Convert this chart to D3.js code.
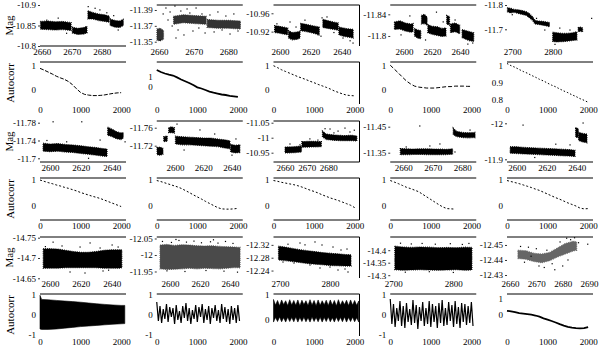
<!DOCTYPE html>
<html>
<head>
<meta charset="utf-8">
<script src="https://cdn.jsdelivr.net/npm/d3@7"></script>
<style>
  body { margin: 0; background: #fff; }
  svg { display: block; font-family: "Liberation Serif", "Times New Roman", serif; }
</style>
</head>
<body>
<div id="chart"></div>
<script>
// ---- panel domains & ticks (15 stars, row by row) ----
const xDomains = [
    [2659.43, 2688.1], [2659.35, 2684.17], [2595.78, 2651.6], [2590.2, 2651.6], [2686.9, 2899.8],
    [2593.5, 2649.3], [2587.1, 2647.8], [2654.7, 2694.4], [2655.6, 2684.7], [2593.5, 2650.8],
    [2593.5, 2649.3], [2591.2, 2648.5], [2687, 2859], [2694.9, 2838.2], [2658.86, 2691.5]
]
const yDomains = [ // [bottom, top]
    [-10.8, -10.9], [-11.3446, -11.3963], [-10.8886, -10.9781], [-11.7815, -11.8572], [-11.6313, -11.8],
    [-11.6917, -11.7838], [-11.6838, -11.7749], [-10.919, -11.0557], [-11.3142, -11.4719], [-11.8925, -12.0064],
    [-14.6507, -14.7517], [-11.9303, -12.0545], [-12.2168, -12.3445], [-14.2888, -14.4528], [-12.428, -12.4553]
]
const xTicks = [
    [2660, 2670, 2680], [2660, 2670, 2680], [2600, 2620, 2640], [2600, 2620, 2640], [2700, 2800],
    [2600, 2620, 2640], [2600, 2620, 2640], [2660, 2670, 2680], [2660, 2670, 2680], [2600, 2620, 2640],
    [2600, 2620, 2640], [2600, 2620, 2640], [2700, 2800], [2700, 2800], [2660, 2670, 2680, 2690]
]
const yTicks = [
    [-10.9, -10.85, -10.8], [-11.39, -11.37, -11.35], [-10.96, -10.92], [-11.84, -11.8], [-11.8, -11.7],
    [-11.78, -11.74, -11.7], [-11.76, -11.72], [-11.05, -11, -10.95], [-11.45, -11.35], [-12, -11.9],
    [-14.75, -14.7, -14.65], [-12.05, -12, -11.95], [-12.32, -12.28, -12.24], [-14.4, -14.35, -14.3], [-12.45, -12.44, -12.43]
]
const acDomains = [ // [bottom, top]
    [-0.576, 1.152], [-1.7, 2.5], [-0.576, 1.152], [-0.576, 1.152], [0.7718, 1.024],
    [-0.538, 1.077], [-0.538, 1.077], [-0.538, 1.077], [-0.538, 1.077], [-0.538, 1.077],
    [-1.05, 1.05], [-1.05, 1.05], [-0.623, 1.012], [-1.05, 1.05], [-1.257, 1.257]
]
const acTicks = [
    [0, 1], [0, 1], [0, 1], [0, 1], [0.8, 0.9, 1],
    [0, 1], [0, 1], [0, 1], [0, 1], [0, 1],
    [-1, 0, 1], [-1, 0, 1], [0, 1], [-1, 0, 1], [0, 1]
]
const lagTicks = [0, 1000, 2000]
const lagMax = 2120

// ---- light curves: dense bands [t, magTop, magBottom] split in segments, plus loose points ----
const band1 = [
    [[2659.6, -10.860, -10.841], [2662, -10.861, -10.840], [2664.5, -10.859, -10.839], [2667, -10.860, -10.840], [2669.8, -10.857, -10.838]],
    [[2670.2, -10.846, -10.832], [2672, -10.843, -10.828], [2674, -10.845, -10.829], [2675.1, -10.848, -10.832]],
    [[2675.4, -10.886, -10.866], [2677, -10.882, -10.866], [2679, -10.878, -10.862], [2681, -10.876, -10.860], [2682.5, -10.873, -10.858]],
    [[2682.8, -10.866, -10.850], [2684.5, -10.862, -10.846], [2686, -10.861, -10.845], [2687.2, -10.865, -10.850]]
]
const pts1 = [[2675.5, -10.896], [2679.4, -10.888], [2681.7, -10.881], [2661.7, -10.863], [2668.3, -10.831],
    [2673.9, -10.835], [2685.5, -10.839], [2665.5, -10.868], [2677.8, -10.892], [2684, -10.874]]

const band2 = [
    [[2659.4, -11.366, -11.352], [2660.3, -11.367, -11.351], [2661.3, -11.364, -11.353]],
    [[2664.2, -11.382, -11.372], [2667, -11.384, -11.374], [2670, -11.383, -11.373], [2673.6, -11.382, -11.372]],
    [[2673.9, -11.378, -11.368], [2677, -11.377, -11.367], [2680, -11.377, -11.367], [2683.5, -11.376, -11.366]]
]
const pts2 = [[2661.2, -11.385], [2662.0, -11.3925], [2662.6, -11.3774], [2663.2, -11.3875], [2663.8, -11.3698],
    [2664.6, -11.395], [2665.5, -11.3648], [2666.3, -11.3887], [2667.2, -11.3585], [2668.1, -11.3913],
    [2668.9, -11.3862], [2669.8, -11.3635], [2670.7, -11.3925], [2671.5, -11.3673], [2672.4, -11.385],
    [2673.3, -11.361], [2674.7, -11.3837], [2675.9, -11.3623], [2677.0, -11.3875], [2678.2, -11.3648],
    [2679.3, -11.3824], [2680.5, -11.3597], [2681.6, -11.385], [2682.8, -11.3635], [2660.3, -11.3521], [2664.9, -11.3547]]

const band3 = [
    [[2596.5, -10.933, -10.918], [2599, -10.932, -10.917], [2602, -10.930, -10.915], [2605, -10.928, -10.913]],
    [[2605.5, -10.922, -10.906], [2608, -10.918, -10.902], [2611, -10.919, -10.903], [2613, -10.921, -10.906]],
    [[2613.4, -10.938, -10.922], [2617, -10.936, -10.920], [2621, -10.933, -10.917], [2625.5, -10.930, -10.913]],
    [[2627.8, -10.947, -10.929], [2631, -10.944, -10.927], [2634.5, -10.941, -10.925], [2637.8, -10.939, -10.923]],
    [[2638.2, -10.930, -10.913], [2641, -10.928, -10.910], [2644, -10.926, -10.908], [2647.5, -10.925, -10.906]]
]
const pts3 = [[2606.5, -10.941], [2616.2, -10.945], [2627.3, -10.950], [2630.5, -10.952], [2645.5, -10.900],
    [2647.4, -10.895], [2624.7, -10.913], [2626.6, -10.910], [2640.9, -10.906], [2610.4, -10.930], [2598, -10.937], [2635, -10.918]]

const band4 = [
    [[2593.2, -11.826, -11.812], [2597, -11.828, -11.813], [2601, -11.824, -11.809], [2605, -11.822, -11.807], [2606.5, -11.823, -11.808]],
    [[2607.5, -11.814, -11.800], [2610, -11.811, -11.796], [2612, -11.810, -11.795]],
    [[2612.5, -11.838, -11.822], [2614.5, -11.840, -11.823], [2616.5, -11.835, -11.820]],
    [[2617, -11.821, -11.806], [2620, -11.818, -11.803], [2624, -11.817, -11.801], [2627, -11.814, -11.799], [2630, -11.815, -11.800]],
    [[2630.5, -11.838, -11.822], [2632.5, -11.836, -11.820]],
    [[2633.2, -11.822, -11.806], [2636.5, -11.824, -11.808], [2639.8, -11.820, -11.804]],
    [[2641.5, -11.812, -11.797], [2644, -11.810, -11.794], [2647, -11.808, -11.791], [2649.8, -11.806, -11.790]]
]
const pts4 = [[2604.2, -11.837], [2623.2, -11.844], [2636.5, -11.8295], [2645.6, -11.785], [2649.1, -11.787],
    [2597.9, -11.802], [2615.4, -11.7926], [2628, -11.826]]

const band5 = [
    [[2688, -11.789, -11.772], [2695, -11.787, -11.767], [2705, -11.782, -11.770], [2715, -11.780, -11.765],
     [2725, -11.777, -11.761], [2735, -11.772, -11.757], [2742, -11.765, -11.748], [2750, -11.752, -11.737],
     [2756, -11.737, -11.722], [2765, -11.734, -11.720], [2775, -11.733, -11.717], [2785, -11.730, -11.714], [2792, -11.728, -11.710]],
    [[2800, -11.688, -11.650], [2810, -11.686, -11.648], [2820, -11.684, -11.649], [2830, -11.683, -11.650],
     [2840, -11.684, -11.652], [2850, -11.686, -11.654], [2860, -11.690, -11.656]],
    [[2863, -11.707, -11.690], [2868, -11.709, -11.692], [2874, -11.706, -11.690]]
]
const pts5 = [[2896.5, -11.745], [2817.6, -11.705], [2780.5, -11.697], [2842.8, -11.697], [2805.7, -11.638],
    [2760, -11.745], [2700, -11.760]]

const band6 = [
    [[2595.5, -11.734, -11.716], [2600, -11.732, -11.715], [2605, -11.733, -11.716], [2610, -11.731, -11.714],
     [2615, -11.730, -11.713], [2620, -11.728, -11.711], [2625, -11.726, -11.709], [2630, -11.724, -11.707],
     [2634, -11.722, -11.705], [2637, -11.721, -11.704]],
    [[2637.4, -11.770, -11.752], [2640, -11.766, -11.749], [2643, -11.760, -11.744], [2646, -11.757, -11.742], [2647.5, -11.758, -11.745]]
]
const pts6 = [[2602, -11.782], [2620.6, -11.782], [2648.7, -11.737], [2610.8, -11.737], [2632.5, -11.741],
    [2598, -11.740], [2625, -11.700]]

const band7 = [
    [[2587.3, -11.716, -11.700], [2589.5, -11.717, -11.699], [2591.5, -11.714, -11.701]],
    [[2592, -11.740, -11.729], [2594.5, -11.742, -11.730]],
    [[2595.5, -11.760, -11.749], [2597.5, -11.762, -11.749], [2599.6, -11.760, -11.748]],
    [[2600.3, -11.741, -11.724], [2605, -11.740, -11.722], [2610, -11.739, -11.722], [2615, -11.738, -11.721],
     [2620, -11.737, -11.720], [2625, -11.737, -11.719], [2630, -11.735, -11.718], [2635, -11.733, -11.715], [2638.8, -11.731, -11.713]],
    [[2639.2, -11.723, -11.706], [2642.5, -11.721, -11.704], [2645.8, -11.722, -11.705]]
]
const pts7 = [[2640.2, -11.699], [2601.4, -11.768], [2617.6, -11.755], [2606.4, -11.7104], [2628, -11.746], [2643, -11.735]]

const band8 = [
    [[2660, -10.969, -10.949], [2664, -10.970, -10.950], [2667.6, -10.972, -10.952]],
    [[2667.8, -10.987, -10.968], [2672, -10.988, -10.969], [2676.8, -10.987, -10.970]],
    [[2677.3, -11.022, -11.003], [2679, -11.012, -10.994], [2683, -11.009, -10.991], [2687, -11.007, -10.990],
     [2691, -11.008, -10.990], [2693.2, -11.006, -10.989]]
]
const pts8 = [[2680.8, -11.029], [2684.5, -11.022], [2687.7, -11.032], [2690, -11.019], [2682.6, -11.016],
    [2666.9, -10.976], [2662.3, -10.979], [2664.6, -10.959], [2671.5, -10.996], [2675.2, -10.992], [2692, -11.025], [2678.5, -11.030]]

const band9 = [
    [[2659, -11.366, -11.342], [2663, -11.364, -11.343], [2667, -11.365, -11.343], [2671, -11.364, -11.342],
     [2675, -11.363, -11.343], [2676.7, -11.365, -11.344]],
    [[2676.9, -11.445, -11.420], [2678, -11.432, -11.412], [2680, -11.428, -11.408], [2682, -11.427, -11.407], [2684.3, -11.428, -11.408]]
]
const pts9 = [[2665.6, -11.4527], [2669, -11.3758], [2677.5, -11.3527], [2682.6, -11.437], [2672.4, -11.3835], [2661, -11.372]]

const band10 = [
    [[2595.6, -11.935, -11.917], [2600, -11.935, -11.916], [2605, -11.933, -11.915], [2610, -11.932, -11.914],
     [2615, -11.931, -11.913], [2620, -11.930, -11.912], [2625, -11.929, -11.911], [2630, -11.928, -11.910],
     [2635, -11.927, -11.909], [2638.8, -11.925, -11.908]],
    [[2639.2, -11.988, -11.962], [2641, -11.985, -11.960]],
    [[2641.2, -11.975, -11.952], [2644, -11.972, -11.948], [2646.8, -11.970, -11.946]]
]
const pts10 = [[2604.2, -11.995], [2644.2, -12.0008], [2635.5, -11.940], [2612, -11.905], [2626, -11.942]]

const band11 = [
    [[2595.6, -14.723, -14.675], [2600, -14.723, -14.675], [2605, -14.722, -14.675], [2610, -14.719, -14.676],
     [2615, -14.716, -14.676], [2620, -14.714, -14.676], [2625, -14.714, -14.676], [2630, -14.716, -14.676],
     [2635, -14.719, -14.675], [2640, -14.720, -14.675], [2645, -14.720, -14.675], [2646.6, -14.720, -14.676]]
]
const pts11 = [[2602, -14.739], [2607.8, -14.7296], [2619.5, -14.727], [2626, -14.737], [2632.5, -14.7246],
    [2640.3, -14.732], [2644.2, -14.727], [2613, -14.6655], [2622.7, -14.663], [2634.4, -14.668], [2597, -14.728], [2638, -14.670]]

const band12 = [
    [[2593.4, -12.030, -11.958], [2598, -12.032, -11.956], [2603, -12.029, -11.957], [2608, -12.031, -11.958],
     [2613, -12.030, -11.960], [2618, -12.028, -11.958], [2623, -12.027, -11.960], [2628, -12.028, -11.959],
     [2633, -12.026, -11.958], [2638, -12.025, -11.960], [2643, -12.024, -11.962], [2646.7, -12.023, -11.961]]
]
const pts12 = [[2595, -12.041], [2601, -12.038], [2606, -12.044], [2611, -12.039], [2616, -12.042], [2621, -12.037],
    [2627, -12.040], [2632, -12.036], [2637, -12.041], [2642, -12.035], [2598, -11.952], [2610, -11.950],
    [2624, -11.953], [2636, -11.951], [2645, -11.948], [2604, -12.047], [2629, -12.046]]

const band13 = [
    [[2697, -12.316, -12.273], [2710, -12.313, -12.271], [2725, -12.309, -12.268], [2740, -12.305, -12.265],
     [2755, -12.302, -12.262], [2770, -12.299, -12.260], [2785, -12.296, -12.258], [2800, -12.294, -12.256],
     [2815, -12.292, -12.255], [2830, -12.290, -12.254], [2842, -12.289, -12.254]]
]
const pts13 = [[2740, -12.3258], [2770, -12.329], [2784, -12.3196], [2806, -12.3133], [2822, -12.304], [2834, -12.307],
    [2760, -12.2573], [2780, -12.248], [2800, -12.251], [2816, -12.2417], [2830, -12.2448], [2728, -12.2635],
    [2706, -12.2666], [2836, -12.2355], [2716, -12.322], [2750, -12.320]]

const band14 = [
    [[2702.5, -14.416, -14.322], [2715, -14.413, -14.320], [2730, -14.411, -14.321], [2745, -14.413, -14.322],
     [2760, -14.412, -14.321], [2775, -14.410, -14.320], [2790, -14.411, -14.321], [2805, -14.410, -14.322],
     [2820, -14.412, -14.320], [2831, -14.411, -14.321]]
]
const pts14 = [[2712, -14.428], [2730, -14.425], [2748, -14.427], [2770, -14.424], [2795, -14.426], [2815, -14.423],
    [2826, -14.427], [2720, -14.312], [2760, -14.314], [2800, -14.311]]

const band15 = [
    [[2663, -12.4465, -12.4410], [2666, -12.4462, -12.4405], [2669, -12.4445, -12.4390], [2672, -12.4440, -12.4382],
     [2675, -12.4450, -12.4395], [2678, -12.4480, -12.4420], [2681, -12.4510, -12.4440], [2684, -12.4525, -12.4460],
     [2685.3, -12.4520, -12.4465]]
]
const pts15 = [[2664, -12.449], [2667, -12.4485], [2671, -12.436], [2673, -12.435], [2676, -12.4375], [2679, -12.452],
    [2681.5, -12.4545], [2683, -12.4535], [2682, -12.440], [2686, -12.4515], [2689.5, -12.4505], [2670, -12.4475],
    [2665.5, -12.4385], [2677, -12.4335], [2674, -12.4465], [2684.5, -12.4548], [2668, -12.4425], [2680, -12.436]]

// ---- autocorrelations: values at lag = index * step, or envelopes [lag, hi, lo] ----
const ac1 = [0.89, 0.82, 0.74, 0.66, 0.57, 0.50, 0.44, 0.35, 0.22, 0.05, -0.10, -0.18, -0.21, -0.23, -0.23, -0.22, -0.20, -0.17, -0.14, -0.12, -0.11]
const ac2 = [1.70, 1.50, 1.35, 1.23, 1.15, 0.96, 0.75, 0.57, 0.40, 0.20, -0.03, -0.15, -0.30, -0.46, -0.57, -0.66, -0.75, -0.80, -0.88, -0.93, -0.99]
const ac3 = [1.0, 0.92, 0.83, 0.76, 0.69, 0.62, 0.55, 0.49, 0.43, 0.36, 0.30, 0.23, 0.17, 0.11, 0.04, -0.04, -0.10, -0.16, -0.21, -0.23, -0.24]
const ac4 = [1.02, 0.86, 0.70, 0.53, 0.37, 0.25, 0.16, 0.12, 0.10, 0.08, 0.08, 0.08, 0.10, 0.12, 0.14, 0.14, 0.16, 0.16, 0.16, 0.15, 0.15]
const ac5 = [1.015, 1.002, 0.992, 0.979, 0.967, 0.957, 0.944, 0.933, 0.920, 0.910, 0.897, 0.885, 0.875, 0.862, 0.850, 0.840, 0.827, 0.817, 0.804, 0.794, 0.782]
const ac6 = [1.0, 0.95, 0.90, 0.86, 0.81, 0.77, 0.72, 0.68, 0.63, 0.58, 0.52, 0.47, 0.42, 0.37, 0.33, 0.28, 0.22, 0.16, 0.10, 0.04, -0.02]
const ac7 = [0.98, 0.94, 0.89, 0.84, 0.79, 0.74, 0.68, 0.60, 0.52, 0.43, 0.35, 0.27, 0.18, 0.10, 0.02, -0.06, -0.11, -0.12, -0.12, -0.11, -0.09]
const ac8 = [0.98, 0.95, 0.91, 0.88, 0.85, 0.82, 0.78, 0.73, 0.67, 0.61, 0.56, 0.50, 0.43, 0.37, 0.31, 0.26, 0.21, 0.15, 0.09, 0.03, -0.06]
const ac9 = [0.98, 0.92, 0.86, 0.79, 0.72, 0.67, 0.61, 0.55, 0.45, 0.35, 0.25, 0.15, 0.05, -0.04, -0.10, -0.11, -0.12]
const ac10 = [0.98, 0.94, 0.90, 0.86, 0.81, 0.76, 0.71, 0.65, 0.60, 0.53, 0.46, 0.39, 0.32, 0.26, 0.19, 0.12, 0.06, 0.0, -0.08, -0.11, -0.10]
const ac11 = [[0, 0.98, -0.70], [40, 0.78, -0.72], [200, 0.76, -0.72], [400, 0.73, -0.70], [600, 0.70, -0.66],
    [800, 0.67, -0.62], [1000, 0.64, -0.58], [1200, 0.60, -0.55], [1400, 0.56, -0.52], [1600, 0.53, -0.49],
    [1800, 0.50, -0.46], [2000, 0.48, -0.44], [2090, 0.48, -0.43]]
const ac12 = [0.65, -0.30, 0.45, -0.40, 0.30, -0.20, 0.55, -0.35, 0.40, -0.10, 0.35, -0.45, 0.50, -0.25, 0.20, -0.40,
    0.45, -0.15, 0.60, -0.30, 0.35, -0.45, 0.25, -0.20, 0.50, -0.35, 0.40, -0.10, 0.55, -0.40, 0.30, -0.25,
    0.45, -0.45, 0.35, -0.15, 0.50, -0.30, 0.25, -0.40, 0.55, -0.20, 0.40, -0.35, 0.30, -0.45, 0.45, -0.25,
    0.35, -0.40, 0.50, -0.30]
const ac13Hi = [0.80, 0.58, 0.76, 0.55, 0.78, 0.60, 0.75, 0.56, 0.79, 0.58, 0.76, 0.57, 0.78, 0.55, 0.77, 0.60,
    0.75, 0.56, 0.79, 0.58, 0.76, 0.55, 0.78, 0.57, 0.75, 0.59, 0.77, 0.56, 0.78, 0.58, 0.76, 0.55,
    0.79, 0.57, 0.75, 0.60, 0.77, 0.56, 0.78, 0.58, 0.76, 0.57, 0.74]
const ac13Lo = [-0.08, 0.10, -0.06, 0.12, -0.07, 0.09, -0.08, 0.11, -0.06, 0.10, -0.07, 0.12, -0.08, 0.10, -0.06, 0.11,
    -0.07, 0.09, -0.08, 0.12, -0.06, 0.10, -0.07, 0.11, -0.08, 0.10, -0.06, 0.12, -0.07, 0.09, -0.08, 0.11,
    -0.06, 0.10, -0.07, 0.12, -0.08, 0.10, -0.06, 0.11, -0.07, 0.09, -0.08]
const ac13 = ac13Hi.map((h, k) => [k * 50, h, ac13Lo[k]])
const ac14 = [0.80, -0.45, 0.55, -0.60, 0.35, -0.30, 0.70, -0.55, 0.45, -0.65, 0.60, -0.35, 0.30, -0.50, 0.75, -0.40,
    0.50, -0.70, 0.40, -0.30, 0.65, -0.55, 0.35, -0.45, 0.70, -0.60, 0.55, -0.35, 0.45, -0.65, 0.60, -0.40,
    0.75, -0.55, 0.35, -0.50, 0.65, -0.30, 0.50, -0.60, 0.70, -0.45, 0.40, -0.65, 0.60, -0.35, 0.55, -0.50,
    0.45, -0.40, 0.65, -0.55]
const ac15 = [0.25, 0.22, 0.17, 0.11, 0.08, 0.05, 0.02, -0.03, -0.10, -0.20, -0.28, -0.36, -0.45, -0.55, -0.64, -0.71, -0.76, -0.79, -0.80, -0.78, -0.72]
const acStep = [100, 100, 100, 100, 100, 100, 100, 100, 100, 100, 0, 40, 0, 40, 100]

const bands = [band1, band2, band3, band4, band5, band6, band7, band8, band9, band10, band11, band12, band13, band14, band15]
const points = [pts1, pts2, pts3, pts4, pts5, pts6, pts7, pts8, pts9, pts10, pts11, pts12, pts13, pts14, pts15]
const acs = [ac1, ac2, ac3, ac4, ac5, ac6, ac7, ac8, ac9, ac10, ac11, ac12, ac13, ac14, ac15]

// ---- layout & styles ----
const W = 600, H = 348
const colLeft = [40, 156.75, 273.5, 390.25, 507], panelW = 86
const magTop = [5, 121, 237], magH = 41
const acTop = [62, 178, 294], acH = 42
const bandFill = ["#000", "#333", "#000", "#000", "#000", "#000", "#000", "#000", "#000", "#000", "#000", "#4a4a4a", "#000", "#000", "#666"]
const acDash = ["4,1.5", null, "2,2", "4,2", "1.5,2", "2,2", "2,2", "2,2", "2,2", "2,2", null, null, null, null, null]
const acWidth = [1, 1.8, 1, 1, 1, 1, 1, 1, 1, 1, 1, 1.2, 1, 1.2, 1.8]
const magSides = ["b", "t", "tr", "t", "", "b", "t", "tbr", "b", "b", "t", "t", "tr", "t", "t"]
const acSides = ["t", "t", "tr", "t", "t", "tb", "tb", "tbr", "tb", "tb", "t", "t", "tr", "t", "t"]

const svg = d3.select("#chart").append("svg")
    .attr("width", W)
    .attr("height", H)
    .attr("viewBox", [0, 0, W, H])

function frame(g, sides, left, top, h) {
    const right = left + panelW, bottom = top + h
    const segs = []
    if (sides.includes("t")) segs.push([left, top, right, top])
    if (sides.includes("b")) segs.push([left, bottom, right, bottom])
    if (sides.includes("r")) segs.push([right, top, right, bottom])
    g.selectAll(null).data(segs).enter().append("line")
        .attr("x1", d => d[0]).attr("y1", d => d[1])
        .attr("x2", d => d[2]).attr("y2", d => d[3])
        .attr("stroke", "#000").attr("stroke-width", 1)
}

function styleAxis(g) {
    g.select(".domain").remove()
    g.attr("font-family", "Liberation Serif, Times New Roman, serif").attr("font-size", 9)
    g.selectAll(".tick line").attr("stroke", "#000").attr("stroke-width", 0.8)
    g.selectAll(".tick text").attr("fill", "#000")
}

for (let i = 0; i < 15; i++) {
    const row = Math.floor(i / 5), col = i % 5
    const left = colLeft[col]
    const g = svg.append("g")

    // --- magnitude panel ---
    const x = d3.scaleLinear().domain(xDomains[i]).range([left, left + panelW])
    const y = d3.scaleLinear().domain(yDomains[i]).range([magTop[row] + magH, magTop[row]])

    const area = d3.area()
        .x(d => x(d[0]))
        .y0(d => y(d[2]))
        .y1(d => y(d[1]))

    bands[i].forEach(seg => {
        // solid core, then a broken outline so the edges look grainy like a point cloud
        g.append("path")
            .datum(seg)
            .attr("d", area)
            .attr("fill", bandFill[i])
        g.append("path")
            .datum(seg)
            .attr("d", area)
            .attr("fill", "none")
            .attr("stroke", bandFill[i])
            .attr("stroke-width", 1.2)
            .attr("stroke-dasharray", "0.8,1.1")
    })

    g.selectAll(null).data(points[i]).enter().append("rect")
        .attr("x", d => x(d[0]) - 0.6)
        .attr("y", d => y(d[1]) - 0.6)
        .attr("width", 1.2)
        .attr("height", 1.2)
        .attr("fill", "#000")

    g.append("g")
        .attr("transform", `translate(${left},0)`)
        .call(d3.axisLeft(y).tickValues(yTicks[i]).tickSize(2).tickPadding(2).tickFormat(d => String(d)))
        .call(styleAxis)

    g.append("g")
        .attr("transform", `translate(0,${magTop[row] + magH})`)
        .call(d3.axisBottom(x).tickValues(xTicks[i]).tickSize(0).tickPadding(3).tickFormat(d => String(d)))
        .call(styleAxis)

    frame(g, magSides[i], left, magTop[row], magH)

    // --- autocorrelation panel ---
    const ax = d3.scaleLinear().domain([0, lagMax]).range([left, left + panelW])
    const ay = d3.scaleLinear().domain(acDomains[i]).range([acTop[row] + acH, acTop[row]])
    const data = acs[i]

    if (Array.isArray(data[0])) {
        // dense oscillation drawn as its envelope
        g.append("path")
            .datum(data)
            .attr("d", d3.area().x(d => ax(d[0])).y0(d => ay(d[2])).y1(d => ay(d[1])))
            .attr("fill", "#000")
            .attr("stroke", "#000")
            .attr("stroke-width", 0.6)
    } else {
        const step = acStep[i]
        const line = d3.line()
            .x((d, k) => ax(k * step))
            .y(d => ay(d))
        g.append("path")
            .datum(data)
            .attr("d", line)
            .attr("fill", "none")
            .attr("stroke", "#000")
            .attr("stroke-width", acWidth[i])
            .attr("stroke-dasharray", acDash[i])
    }

    g.append("g")
        .attr("transform", `translate(${left},0)`)
        .call(d3.axisLeft(ay).tickValues(acTicks[i]).tickSize(0).tickPadding(4).tickFormat(d => String(d)))
        .call(styleAxis)

    g.append("g")
        .attr("transform", `translate(0,${acTop[row] + acH})`)
        .call(d3.axisBottom(ax).tickValues(lagTicks).tickSize(0).tickPadding(3).tickFormat(d => String(d)))
        .call(styleAxis)

    frame(g, acSides[i], left, acTop[row], acH)
}

// row titles
for (let r = 0; r < 3; r++) {
    svg.append("text")
        .attr("transform", `translate(13,${magTop[r] + magH / 2}) rotate(-90)`)
        .attr("text-anchor", "middle")
        .attr("font-size", 11)
        .text("Mag")
    svg.append("text")
        .attr("transform", `translate(14,${acTop[r] + acH / 2}) rotate(-90)`)
        .attr("text-anchor", "middle")
        .attr("font-size", 11)
        .text("Autocorr")
}
</script>
</body>
</html>
